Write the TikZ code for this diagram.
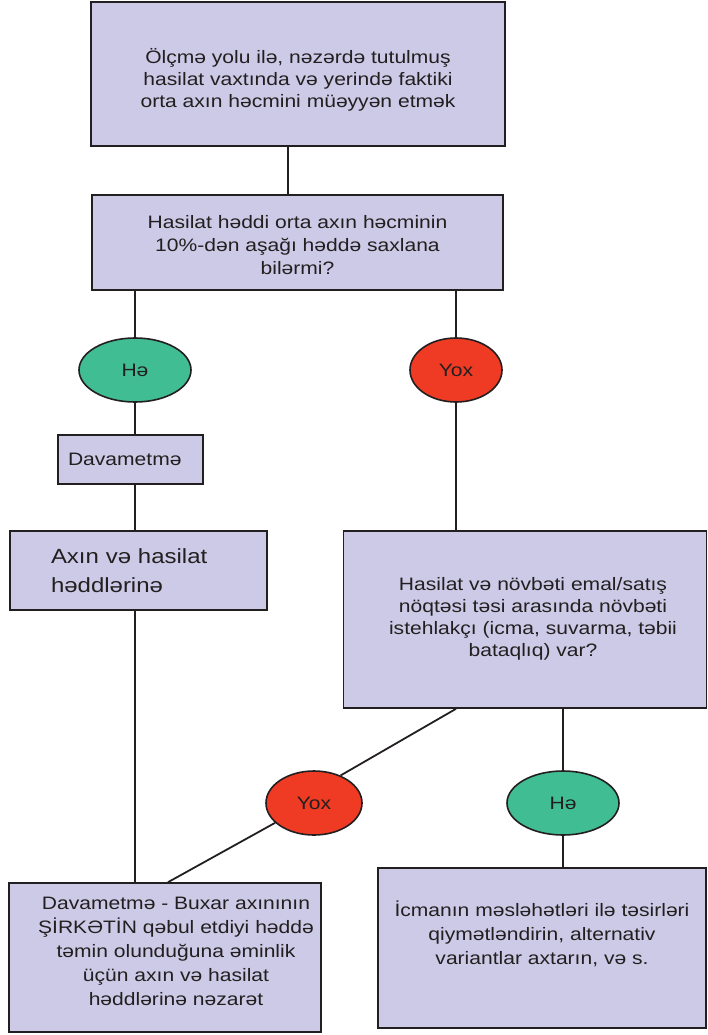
\documentclass[tikz,border=0pt]{standalone}
\usepackage{fontspec}
\setmainfont{Liberation Sans}[FakeStretch=1.17]
\usetikzlibrary{shapes.geometric}
\definecolor{boxfill}{RGB}{204,202,230}
\definecolor{yesgreen}{RGB}{65,189,147}
\definecolor{nored}{RGB}{239,59,36}
\definecolor{inkgray}{RGB}{35,31,32}

\begin{document}
\begin{tikzpicture}[x=1pt, y=-1pt,
  stepbox/.style={draw=inkgray, line width=1.6pt, fill=boxfill, text=inkgray, align=center, inner sep=0pt, font=\fontsize{18}{22}\selectfont},
  answer/.style={ellipse, draw=inkgray, line width=1.6pt, text=inkgray, inner sep=0pt, minimum height=64pt, font=\fontsize{18}{22}\selectfont},
  link/.style={draw=inkgray, line width=1.8pt}]
  \useasboundingbox (0,0) rectangle (708,1035);

  % boxes
  \node[stepbox, minimum width=414pt, minimum height=144pt] (measure) at (298,74)
    {\rule{0pt}{27pt}Ölçmə yolu ilə, nəzərdə tutulmuş\\hasilat vaxtında və yerində faktiki\\orta axın həcmini müəyyən etmək};
  \node[stepbox, minimum width=411pt, minimum height=95pt, font=\fontsize{18}{23}\selectfont] (limit) at (297.5,242.5)
    {\rule{0pt}{18pt}Hasilat həddi orta axın həcminin\\10\%-dən aşağı həddə saxlana\\bilərmi?};
  \node[answer, fill=yesgreen, minimum width=112pt] (yes1) at (135,370) {Hə\hspace{24pt}};
  \node[answer, fill=nored, minimum width=92pt] (no1) at (456,370) {Yox};
  \node[stepbox, minimum width=145pt, minimum height=49pt, text width=125pt, align=left] (contin) at (130.5,459.5) {Davametmə};
  \node[stepbox, minimum width=257pt, minimum height=79pt, text width=175pt, align=left,
    font=\fontsize{20.5}{29}\selectfont] (flowlim) at (138.5,570.5) {Axın və hasilat\\həddlərinə};
  \node[stepbox, minimum width=363pt, minimum height=177pt] (consumer) at (525,619.5)
    {\begin{tabular}{@{\hspace{16pt}}c@{}}Hasilat və növbəti emal/satış\\nöqtəsi təsi arasında növbəti\\istehlakçı (icma, suvarma, təbii\\bataqlıq) var?\end{tabular}};
  \node[answer, fill=nored, minimum width=96pt] (no2) at (314,803) {Yox};
  \node[answer, fill=yesgreen, minimum width=112pt] (yes2) at (563,803) {Hə\hspace{18pt}};
  \node[stepbox, minimum width=312pt, minimum height=149pt, font=\fontsize{18}{24}\selectfont] (control) at (165,957.5)
    {\begin{tabular}{@{\hspace{22pt}}c@{}}Davametmə - Buxar axınının\\ŞİRKƏTİN qəbul etdiyi həddə\\təmin olunduğuna əminlik\\üçün axın və hasilat\\həddlərinə nəzarət\rule[-16pt]{0pt}{0pt}\end{tabular}};
  \node[stepbox, minimum width=328pt, minimum height=160pt, font=\fontsize{18}{24}\selectfont] (consult) at (542,948)
    {İcmanın məsləhətləri ilə təsirləri\\qiymətləndirin, alternativ\\variantlar axtarın, və s.\rule[-30pt]{0pt}{0pt}};

  % connectors
  \draw[link] ([xshift=-10pt]measure.south) -- ([xshift=-9.5pt]limit.north);
  \draw[link] (limit.south -| yes1) -- (yes1.north);
  \draw[link] (limit.south -| no1) -- (no1.north);
  \draw[link] (yes1.south) -- (yes1.south |- contin.north);
  \draw[link] (contin.south -| yes1) -- (flowlim.north -| yes1);
  \draw[link] (flowlim.south -| yes1) -- (control.north -| yes1);
  \draw[link] (no1.south) -- (no1.south |- consumer.north);
  \draw[link] (consumer.south -| no1) -- (no2.46);
  \draw[link] (no2.207) -- ([xshift=3pt]control.north);
  \draw[link] (consumer.south -| yes2) -- (yes2.north);
  \draw[link] (yes2.south) -- (yes2.south |- consult.north);
\end{tikzpicture}
\end{document}
